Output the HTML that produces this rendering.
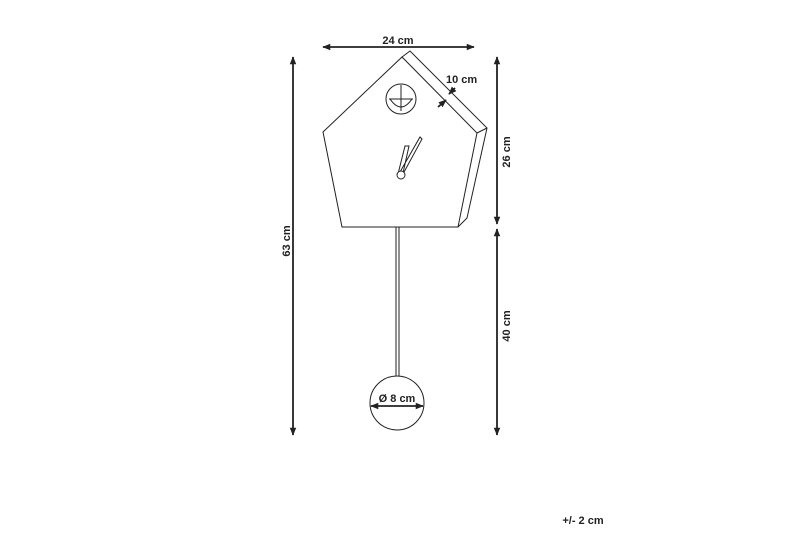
<!DOCTYPE html>
<html><head><style>
html,body{margin:0;padding:0;background:#fff;width:800px;height:533px;overflow:hidden}
text{font-family:"Liberation Sans",sans-serif;font-weight:bold;font-size:11px;fill:#222}
</style></head><body>
<svg width="800" height="533" viewBox="0 0 800 533">
<defs>
<marker id="a" viewBox="0 0 10 10" refX="9" refY="5" markerWidth="4.5" markerHeight="4.5" orient="auto-start-reverse"><path d="M0,1 L10,5 L0,9 z" fill="#222"/></marker>
</defs>
<g stroke="#222" fill="none" stroke-width="1">
<path d="M323,132 L402,57 L477,133 L458,227 L342,227 Z" fill="#fff"/>
<path d="M402,57 L410,51 L487,128 L467,218 L458,227"/>
<path d="M477,133 L487,128"/>
<circle cx="401" cy="99" r="15"/>
<path d="M389,99 H413 M401,85 V111 M390,99 Q401,115 412,99"/>
<path d="M398,174 L405,146 L409,146 L403,173 M400,172 L420,137 L422,139 L403,174"/>
<circle cx="401" cy="175" r="4" fill="#fff"/>
<path d="M396,227 V376 M399,227 V376"/>
<circle cx="397" cy="403" r="27" fill="#fff"/>
</g>
<g stroke="#222" stroke-width="1.8" fill="none">
<line x1="323" y1="47" x2="474" y2="47" marker-start="url(#a)" marker-end="url(#a)"/>
<line x1="293" y1="57" x2="293" y2="435" marker-start="url(#a)" marker-end="url(#a)"/>
<line x1="497" y1="57" x2="497" y2="224" marker-start="url(#a)" marker-end="url(#a)"/>
<line x1="497" y1="229" x2="497" y2="435" marker-start="url(#a)" marker-end="url(#a)"/>
<line x1="371" y1="406" x2="423" y2="406" marker-start="url(#a)" marker-end="url(#a)"/>
<line x1="438" y1="107" x2="446" y2="100" marker-end="url(#a)"/>
<line x1="455" y1="88" x2="449" y2="94" marker-end="url(#a)"/>
</g>
<text x="398" y="44" text-anchor="middle">24 cm</text>
<text x="446" y="83">10 cm</text>
<text x="397" y="402" text-anchor="middle">Ø 8 cm</text>
<text x="583" y="524" text-anchor="middle">+/- 2 cm</text>
<text transform="translate(290,241) rotate(-90)" text-anchor="middle">63 cm</text>
<text transform="translate(510,152) rotate(-90)" text-anchor="middle">26 cm</text>
<text transform="translate(510,326) rotate(-90)" text-anchor="middle">40 cm</text>
</svg>
</body></html>
